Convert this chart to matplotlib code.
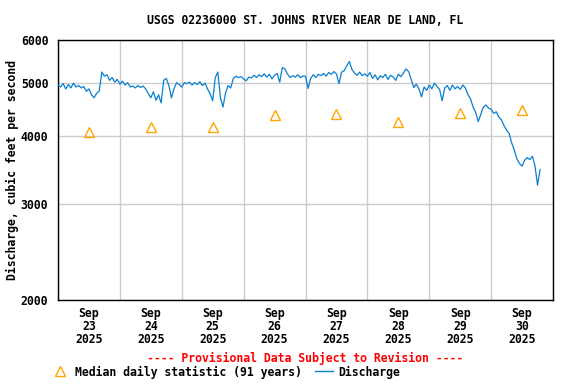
import numpy as np
import matplotlib
matplotlib.use("Agg")
import matplotlib.pyplot as plt
import matplotlib.dates as mdates
from matplotlib.lines import Line2D
from matplotlib.ticker import FixedLocator, NullLocator, NullFormatter

plt.rcParams['font.family'] = ['DejaVu Sans Mono']
plt.rcParams['font.weight'] = 'bold'
plt.rcParams['axes.labelweight'] = 'bold'

title = "USGS 02236000 ST. JOHNS RIVER NEAR DE LAND, FL"
ylabel = "Discharge, cubic feet per second"

# Hourly discharge values (cfs), starting 2025-09-23 00:00
sep23 = [4960, 4920, 4990, 4880, 4970, 4900, 5000, 4920, 4950, 4900, 4930, 4830,
         4880, 4760, 4700, 4790, 4840, 5240, 5150, 5180, 5060, 5120, 5020, 5080]
sep24 = [4980, 5040, 4960, 5010, 4920, 4940, 4900, 4950, 4910, 4940, 4880, 4790,
         4700, 4820, 4650, 4760, 4600, 5060, 5100, 4950, 4700, 4880, 5010, 4970]
sep25 = [4920, 5010, 4990, 5020, 4960, 5010, 4970, 5030, 4950, 5000, 4880, 4780,
         4640, 5120, 5240, 4700, 4520, 4800, 4950, 4900, 5100, 5150, 5120, 5140]
sep26 = [5090, 5050, 5130, 5110, 5170, 5120, 5180, 5140, 5200, 5130, 5190, 5090,
         5170, 5210, 5020, 5340, 5310, 5200, 5120, 5160, 5130, 5180, 5120, 5150]
sep27 = [5150, 4890, 5100, 5180, 5120, 5190, 5160, 5210, 5150, 5230, 5190, 5250,
         5200, 4990, 5240, 5270, 5380, 5480, 5300, 5220, 5170, 5240, 5160, 5200]
sep28 = [5150, 5230, 5100, 5180, 5070, 5160, 5120, 5190, 5080, 5170, 5130, 5060,
         5190, 5140, 5220, 5310, 5250, 5080, 4910, 4980, 4880, 4720, 4920, 4850]
sep29 = [4960, 4880, 5000, 4930, 4870, 4640, 4900, 4950, 4850, 4960, 4880, 4930,
         4870, 4960, 4900, 4760, 4680, 4520, 4420, 4250, 4380, 4520, 4560, 4500]
sep30 = [4480, 4400, 4430, 4330, 4280, 4180, 4100, 4040, 3880, 3770, 3630, 3560,
         3520, 3610, 3650, 3620, 3670, 3530, 3250, 3470]

discharge = sep23 + sep24 + sep25 + sep26 + sep27 + sep28 + sep29 + sep30
times = np.datetime64('2025-09-23T00:00') + np.arange(len(discharge)) * np.timedelta64(1, 'h')
times = times.astype('datetime64[m]').astype(object)

median_days = np.arange(np.datetime64('2025-09-23T12:00'), np.datetime64('2025-10-01T00:00'),
                        np.timedelta64(1, 'D')).astype(object)
median_vals = [4070, 4160, 4160, 4370, 4380, 4250, 4410, 4470]

yticks = [2000, 3000, 4000, 5000, 6000]

FS = 8.3
fig = plt.figure(figsize=(5.76, 3.84), dpi=100)
ax = fig.add_axes([58/576, 1-300/384, (553-58)/576, 260/384])

ax.plot(times, discharge, color='#0a7fd0', lw=0.9, zorder=3)
ax.plot(median_days, median_vals, linestyle='none', marker='^', markersize=7,
        markerfacecolor='none', markeredgecolor='#ffa500', markeredgewidth=1.0, zorder=4)

ax.set_yscale('log')
ax.set_ylim(2000, 6000)
ax.yaxis.set_major_locator(FixedLocator(yticks))
ax.yaxis.set_minor_locator(NullLocator())
ax.yaxis.set_minor_formatter(NullFormatter())
ax.set_yticklabels([str(v) for v in yticks], fontweight='bold')

ax.set_xlim(np.datetime64('2025-09-23T00:00').astype(object), np.datetime64('2025-10-01T00:00').astype(object))
ax.xaxis.set_major_locator(mdates.DayLocator())
ax.xaxis.set_major_formatter(NullFormatter())
ax.xaxis.set_minor_locator(mdates.HourLocator(byhour=[12]))
ax.xaxis.set_minor_formatter(mdates.DateFormatter('%b\n%d\n%Y'))

ax.grid(True, which='major', color='#cccccc', lw=1, zorder=0)
ax.tick_params(which='both', length=0, labelsize=FS)
ax.tick_params(axis='x', which='minor', pad=5)
ax.tick_params(axis='y', pad=7)
for lbl in ax.get_xticklabels(minor=True):
    lbl.set_linespacing(1.0)
    lbl.set_fontweight('bold')
for sp in ax.spines.values():
    sp.set_color('black')
    sp.set_linewidth(1)

ax.set_ylabel(ylabel, fontsize=FS, fontweight='bold', labelpad=1)
fig.text(305.5/576, 1-20/384, title, ha='center', va='center', fontsize=FS, fontweight='bold')
fig.text(305.5/576, 1-358/384, "---- Provisional Data Subject to Revision ----",
         ha='center', va='center', fontsize=FS, color='red', fontweight='bold')

# legend
fig.add_artist(Line2D([60/576], [1-371/384], marker='^', markersize=7, linestyle='none',
                      markerfacecolor='none', markeredgecolor='#ffa500', markeredgewidth=1.0,
                      transform=fig.transFigure))
fig.text(75/576, 1-372/384, "Median daily statistic (91 years)", ha='left', va='center',
         fontsize=FS, fontweight='bold')
fig.add_artist(Line2D([315/576, 333/576], [1-371/384, 1-371/384], color='#0a7fd0', lw=1,
                      transform=fig.transFigure))
fig.text(338/576, 1-372/384, "Discharge", ha='left', va='center', fontsize=FS, fontweight='bold')

fig.savefig('out.png', dpi=100)
